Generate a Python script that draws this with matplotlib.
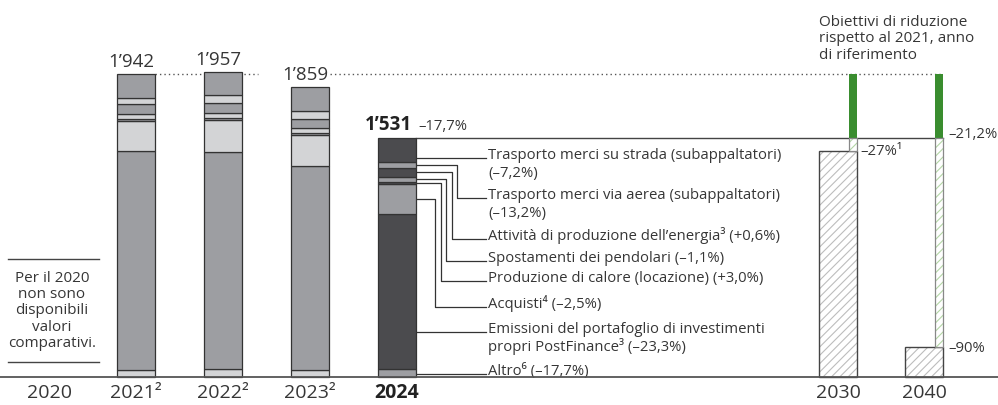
import matplotlib
matplotlib.use('Agg')
import matplotlib.pyplot as plt
from matplotlib.patches import Rectangle

plt.rcParams['font.family'] = ['Open Sans', 'DejaVu Sans']
plt.rcParams['hatch.linewidth'] = 0.8

# categories and positions on the x axis
years = ['2020', '2021²', '2022²', '2023²', '2024', '2030', '2040']
x_pos = [0, 1, 2, 3, 4, 9.07, 10.06]

# stacked emissions per year 2021-2024 (t CO2e), bottom -> top
altro = [47, 49, 45, 51]
postfinance = [1400, 1394, 1307, 993]
acquisti = [196, 205, 201, 194]
calore = [15, 15, 10, 15]
pendolari = [32, 32, 35, 32]
energia = [60, 60, 58, 58]
aerea = [38, 51, 49, 36]
strada = [154, 151, 154, 152]
totals = [1942, 1957, 1859, 1531]
total_labels = ['1’942', '1’957', '1’859', '1’531']

# reduction targets (2030, 2040)
targets = [1450, 190]
target_labels = ['–27%¹', '–90%']
achieved_label = '–21,2%'
change_2024 = '–17,7%'

seg_labels = [
    'Trasporto merci su strada (subappaltatori)\n(–7,2%)',
    'Trasporto merci via aerea (subappaltatori)\n(–13,2%)',
    'Attività di produzione dell’energia³ (+0,6%)',
    'Spostamenti dei pendolari (–1,1%)',
    'Produzione di calore (locazione) (+3,0%)',
    'Acquisti⁴ (–2,5%)',
    'Emissioni del portafoglio di investimenti\npropri PostFinance³ (–23,3%)',
    'Altro⁶ (–17,7%)',
]

MID = '#9d9ea2'
LIGHT = '#d3d4d6'
DARK = '#4b4b4e'
EDGE = '#333333'
GREEN = '#3a8d2f'
TXT = '#363636'

# pixel helpers (layout only)
U = 1942 / 302.7
def dx(px):
    return (px - 49) / 87.0
def dy(py):
    return (378 - py) * U

W = 0.443

fig = plt.figure(figsize=(9.98, 4.06), dpi=100)
ax = fig.add_axes([0, 0, 1, 1])
ax.set_xlim(dx(0), dx(998))
ax.set_ylim(dy(406), dy(0))
ax.axis('off')

stack = [altro, postfinance, acquisti, calore, pendolari, energia, aerea, strada]
mids_2024 = []
for i in range(4):
    x = x_pos[i + 1]
    bottom = 0
    for k, seg in enumerate(stack):
        if i == 3:
            col = MID if k % 2 == 0 else DARK
        else:
            col = LIGHT if k % 2 == 0 else MID
        ax.bar(x, seg[i], bottom=bottom, width=W, color=col, edgecolor=EDGE,
               linewidth=0.9, zorder=3)
        if i == 3:
            mids_2024.append(bottom + seg[i] / 2)
        bottom += seg[i]

# value labels
for i in range(3):
    ax.annotate(total_labels[i], (x_pos[i + 1], totals[i]), xytext=(-5, 8),
                textcoords='offset pixels', ha='center', va='baseline',
                fontsize=13.5, color=TXT, zorder=5,
                bbox=dict(fc='white', ec='none', pad=1) if i == 2 else None)
ax.annotate(total_labels[3], (x_pos[4] + W / 2, totals[3]), xytext=(-4, 9),
            textcoords='offset pixels', ha='right', va='baseline',
            fontsize=13.5, fontweight='bold', color='#222222')
ax.annotate(change_2024, (x_pos[4] + W / 2, totals[3]), xytext=(2, 9),
            textcoords='offset pixels', ha='left', va='baseline',
            fontsize=10.7, color=TXT)

# dotted reference line at the 2021 level
ax.plot([x_pos[1] + W / 2, dx(258)], [totals[0]] * 2, ls=(0, (1, 2.2)),
        color='#555555', lw=1, zorder=1)
ax.plot([dx(330), x_pos[6] + W / 2], [totals[0]] * 2, ls=(0, (1, 2.2)),
        color='#555555', lw=1, zorder=1)

# 2024 level line
ax.plot([x_pos[4] + W / 2, x_pos[6] + W / 2], [totals[3]] * 2,
        color='#444444', lw=1, zorder=2)

# targets
gw = 8 / 87.0
for j, t in enumerate(targets):
    x = x_pos[5 + j]
    ax.add_patch(Rectangle((x - W / 2, 0), W, t, facecolor='white',
                           edgecolor='#bdbdbd', hatch='////', lw=0, zorder=2))
    ax.add_patch(Rectangle((x - W / 2, 0), W, t, fill=False,
                           edgecolor='#444444', lw=1, zorder=3))
    gx = x + W / 2 - gw
    ax.add_patch(Rectangle((gx, totals[3]), gw, totals[0] - totals[3],
                           facecolor=GREEN, edgecolor='none', zorder=4))
    ax.add_patch(Rectangle((gx, t), gw, totals[3] - t, facecolor='white',
                           edgecolor='#b3d6a6', hatch='////', lw=0, zorder=4))
    ax.add_patch(Rectangle((gx, t), gw, totals[3] - t, fill=False,
                           edgecolor='#888888', lw=0.9, zorder=4))

ax.text(dx(860), targets[0], target_labels[0], ha='left', va='center',
        fontsize=10.7, color=TXT)
ax.text(dx(948), targets[1], target_labels[1], ha='left', va='center',
        fontsize=10.7, color=TXT)
ax.text(dx(948), dy(135), achieved_label, ha='left', va='center',
        fontsize=10.7, color=TXT)
ax.text(dx(819), dy(39), 'Obiettivi di riduzione\nrispetto al 2021, anno\ndi riferimento',
        ha='left', va='center', fontsize=11, color=TXT, linespacing=1.12)

# segment labels with leader lines (top -> bottom)
label_y = [159, 199.3, 240, 261.7, 281.7, 308.3, 332.7, 375]
elbow_x = [None, 456.7, 451.7, 446, 440.7, 435, None, None]
mids_top = mids_2024[::-1]
x_right = x_pos[4] + W / 2
for k, lab in enumerate(seg_labels):
    ly = dy(label_y[k])
    if elbow_x[k] is None:
        xs, ys = [x_right, dx(486)], [ly, ly]
    else:
        ex = dx(elbow_x[k])
        xs = [x_right, ex, ex, dx(486)]
        ys = [mids_top[k], mids_top[k], ly, ly]
    ax.plot(xs, ys, color='#333333', lw=0.9, zorder=2)
    for n, line in enumerate(lab.split('\n')):
        ax.text(dx(488), dy(label_y[k] + 18 * n), line, ha='left',
                va='baseline', fontsize=10.7, color=TXT)

# baseline and year labels
ax.plot([dx(0), dx(998)], [0, 0], color='#555555', lw=1.3, zorder=4)
for i, yr in enumerate(years):
    ax.text(x_pos[i], dy(393), yr, ha='center', va='center', fontsize=14,
            color='#222222' if i == 4 else TXT,
            fontweight='bold' if i == 4 else 'normal')

# 2020 note
ax.plot([dx(8), dx(99)], [dy(260)] * 2, color='#444444', lw=1)
ax.plot([dx(8), dx(99)], [dy(363)] * 2, color='#444444', lw=1)
ax.text(dx(52), dy(311), 'Per il 2020\nnon sono\ndisponibili\nvalori\ncomparativi.',
        ha='center', va='center', fontsize=11, color=TXT, linespacing=1.12)

fig.savefig('out.png', dpi=100, facecolor='white')
